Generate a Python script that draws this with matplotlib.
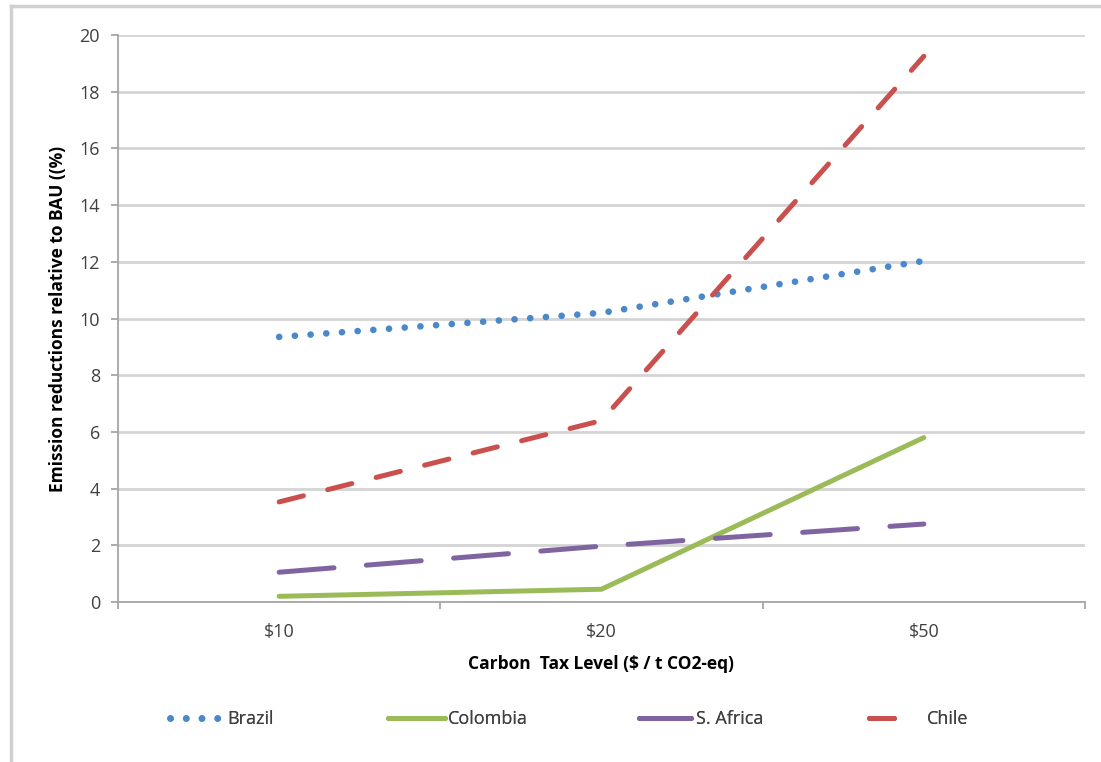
import matplotlib
matplotlib.use("Agg")
import matplotlib.pyplot as plt
from matplotlib.lines import Line2D

categories = ["$10", "$20", "$50"]
brazil = [9.35, 10.2, 12.03]
colombia = [0.2, 0.45, 5.8]
s_africa = [1.05, 1.97, 2.75]
chile = [3.53, 6.4, 19.25]

series_names = ["Brazil", "Colombia", "S. Africa", "Chile"]
series_values = [brazil, colombia, s_africa, chile]
colors = ["#4a88cc", "#9bbb59", "#8064a2", "#c9504d"]

plt.rcParams['font.family'] = ['Open Sans', 'DejaVu Sans']

fig = plt.figure(figsize=(11.01, 7.62), dpi=100)
ax = fig.add_axes([118/1101, 160/762, (1085-118)/1101, (602-35)/762])

styles = [
    dict(lw=4.8, linestyle=(0, (0.01, 2.35)), dash_capstyle='round'),
    dict(lw=3.6, linestyle='-', solid_capstyle='round'),
    dict(lw=3.6, linestyle=(0, (11, 6.5)), dash_capstyle='round'),
    dict(lw=3.6, linestyle=(0, (5, 5)), dash_capstyle='round'),
]
x = list(range(1, len(categories) + 1))
handles = []
for name, vals, c, st in zip(series_names, series_values, colors, styles):
    h, = ax.plot(x, vals, color=c, label=name, solid_joinstyle='miter', **st)
    handles.append(h)

ax.set_xlim(0.5, 3.5)
ax.set_ylim(0, 20)
ax.set_yticks(range(0, 21, 2))
ax.set_xticks(x)
ax.set_xticklabels(categories)
ax.set_xticks([0.5, 1.5, 2.5, 3.5], minor=True)
ax.tick_params(axis='x', which='major', length=0, pad=15, labelsize=13, colors='#404040')
ax.tick_params(axis='x', which='minor', length=5, width=1.3, color='#a6a6a6', direction='out')
ax.tick_params(axis='y', length=5, width=1.3, color='#a6a6a6', direction='out', labelsize=13,
               labelcolor='#404040', pad=8)

ax.yaxis.grid(True, color='#d4d4d4', lw=2.0)
ax.set_axisbelow(True)
for s in ['top', 'right']:
    ax.spines[s].set_visible(False)
for s in ['left', 'bottom']:
    ax.spines[s].set_color('#a6a6a6')
    ax.spines[s].set_linewidth(1.3)

ax.set_xlabel("Carbon  Tax Level ($ / t CO2-eq)", fontsize=12.5, fontweight='bold', labelpad=10)
ax.set_ylabel("Emission reductions relative to BAU ((%)", fontsize=12.5, fontweight='bold', labelpad=9)

# legend, one entry per box
fs = 13
leg_x = [170, 387.5, 638.5, 868.5]
hl = [2.77, 3.16, 2.88, 1.44]
pads = [0.4, 0.2, 0.3, 1.8]
for h, px, L, p in zip(handles, leg_x, hl, pads):
    lg = fig.legend([h], [h.get_label()], loc='center left',
                    bbox_to_anchor=(px/1101, 1 - 719/762), frameon=False,
                    borderaxespad=0, borderpad=0,
                    handlelength=L, handletextpad=p,
                    fontsize=fs, labelcolor='#404040')
    fig.add_artist(lg)

# outer frame (left and top edges visible)
fig.add_artist(Line2D([11/1101, 11/1101], [0, 1 - 6/762], transform=fig.transFigure,
                      color='#d0d0d0', lw=2.5))
fig.add_artist(Line2D([11/1101, 1], [1 - 6/762, 1 - 6/762], transform=fig.transFigure,
                      color='#d0d0d0', lw=2.5))

fig.savefig("out.png", dpi=100)
